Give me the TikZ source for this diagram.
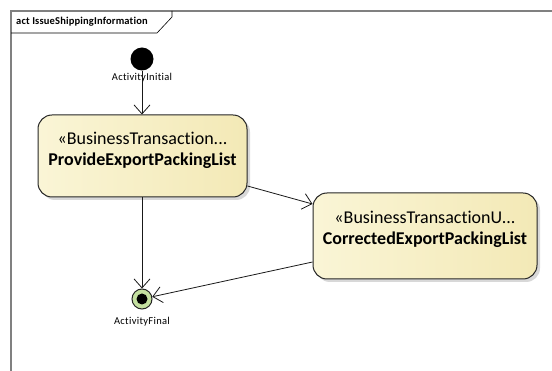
\documentclass[tikz,border=0pt]{standalone}
\usepackage{fontspec}
\setmainfont[Ligatures=NoCommon]{Carlito}
\newfontfamily\spacedfont[Ligatures=NoCommon,LetterSpace=3]{Carlito}
\newfontfamily\spacedtitle[Ligatures=NoCommon,LetterSpace=1.5]{Carlito}
\usetikzlibrary{arrows.meta,shadows,calc}
\definecolor{boxL}{RGB}{250,245,214}
\definecolor{boxR}{RGB}{243,233,182}
\definecolor{finG}{RGB}{196,224,160}
\definecolor{frameG}{RGB}{128,128,128}
\tikzset{
  actbox/.style={draw=black!85, line width=1pt, rounded corners=14pt, left color=boxL, right color=boxR,
     drop shadow={shadow xshift=3pt, shadow yshift=-3pt, fill=black!30, opacity=0.5}, inner sep=0pt},
  boxtxt/.style={align=center, inner sep=0pt, font=\fontsize{18}{21.5}\selectfont},
  small/.style={font=\spacedfont\fontsize{10.5}{12}\selectfont, inner sep=0pt},
  flow/.style={draw=black!90, line width=0.8pt, -{Straight Barb[length=9pt,width=16pt,line width=0.8pt]}}
}
\begin{document}
\begin{tikzpicture}[x=1pt,y=-1pt]
\useasboundingbox (0,0) rectangle (552,371);
\fill[white] (0,0) rectangle (552,371);
% frame
\begin{scope}
\clip (0,0) rectangle (552,371);
\draw[frameG, line width=1.6pt] (11,380) -- (11,11) -- (560,11);
\end{scope}
\draw[black, line width=0.6pt] (11,33) -- (157,33) -- (172,17) -- (172,11);
\node[anchor=west, inner sep=0pt, font=\spacedtitle\fontsize{10.5}{12}\selectfont\bfseries] (title) at (16,22) {act IssueShippingInformation};
% initial
\node[circle, fill=black, minimum size=23pt, inner sep=0pt] (ini) at (142,59) {};
\node[small] (inilbl) at (142,78) {ActivityInitial};
% boxes
\node[actbox, minimum width=209pt, minimum height=82pt] (b1) at (142.5,156) {};
\node[boxtxt, anchor=north] (b1t) at ($(b1.north)+(0,17)$) {«BusinessTransaction...\\\textbf{ProvideExportPackingList}};
\node[actbox, minimum width=224pt, minimum height=86pt] (b2) at (425,236) {};
\node[boxtxt, anchor=north] (b2t) at ($(b2.north)+(0,18)$) {«BusinessTransactionU...\\\textbf{CorrectedExportPackingList}};
% final
\node[circle, draw=black!85, line width=1pt, fill=finG, minimum size=20pt, inner sep=0pt] (fin) at (142,299) {};
\fill[black] (fin.center) circle (5.5pt);
\node[small] (finlbl) at (142,322) {ActivityFinal};
% flows
\draw[flow] (ini) -- (b1.north -| ini);
\draw[flow] (b1.south -| fin) -- (fin);
\draw[flow] ($(b1.east)+(0,30)$) -- ($(b2.west)+(0,-32)$);
\draw[flow] ($(b2.west)+(0,26)$) -- (fin);
\end{tikzpicture}
\end{document}
